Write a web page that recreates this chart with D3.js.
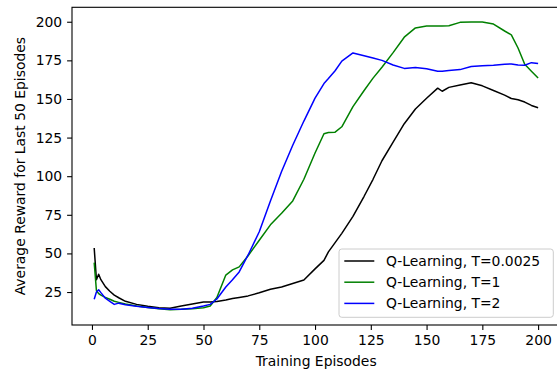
<!DOCTYPE html>
<html>
<head>
<meta charset="utf-8">
<script src="https://cdn.jsdelivr.net/npm/d3@7"></script>
<style>
  body { margin: 0; background: #fff; }
  text { font-family: "DejaVu Sans", sans-serif; }
</style>
</head>
<body>
<div id="chart"></div>
<script>
// Data
const episodes = [1,2,3,4,6,8,10,12,15,20,25,30,35,40,45,50,53,56,60,63,66,70,75,80,85,90,95,100,
  104,106,109,112,117,122,126,130,135,140,145,150,155,157,160,165,170,175,180,185,188,191,194,197,200];

const rewardT0025 = [53.5,33,36.5,33,28.5,25.5,23,21.3,19,
  17,15.8,14.8,14.5,16,17.3,18.5,
  18.6,18.8,19.8,20.8,21.5,22.5,24.5,26.8,28.3,30.5,32.8,40,
  45.5,51,57,63,74,87,98,110,122,134,143.5,150.5,
  157,155,157.5,159,160.5,158.5,155.5,152.5,150.3,149.5,148,145.8,144.3];

const rewardT1 = [44,26,24,23,21.5,20.3,19,18.3,17.3,
  16,15,14.2,13.6,13.8,14.2,14.8,
  16,21.5,36,39.3,41.3,48.5,58.5,68.5,76,84,98,115,
  127.5,128.3,128.5,132,145,155.5,163.5,170.5,180,190,196,197.2,
  197.3,197.3,197.4,199.6,199.8,199.8,198.5,194,191.5,183,172.5,168,163.6];

const rewardT2 = [20.3,25,26.5,24.6,21,19,17,17.8,16.8,
  15.8,15,14.3,13.8,13.8,14.5,16,
  17,20.5,28.3,33,38,49,64,84,103,120,135.7,150.5,
  160,163.2,168.3,174.5,179.8,178,176.5,175,172,169.8,170.3,169.5,
  167.9,168,168.5,169,171,171.5,171.8,172.5,172.7,172,171.8,173.5,173];

const seriesNames = ["Q-Learning, T=0.0025", "Q-Learning, T=1", "Q-Learning, T=2"];
const seriesColors = ["#000000", "#008000", "#0000ff"];
const xTicks = [0, 25, 50, 75, 100, 125, 150, 175, 200];
const yTicks = [25, 50, 75, 100, 125, 150, 175, 200];

// Layout
let width = 557, height = 371;
let plot = { left: 72, right: 560.3, top: 7.3, bottom: 325 };
const fontSize = 13.9;

let svg = d3.select("#chart").append("svg")
    .attr("width", width)
    .attr("height", height);

let x = d3.scaleLinear().domain([-8.95, 209.95]).range([plot.left, plot.right]);
let y = d3.scaleLinear().domain([3.65, 209.35]).range([plot.bottom, plot.top]);

// lines
let allSeries = [rewardT0025, rewardT1, rewardT2].map((vals, i) => ({
    name: seriesNames[i],
    color: seriesColors[i],
    values: episodes.map((e, j) => [e, vals[j]])
}));

let line = d3.line().x(d => x(d[0])).y(d => y(d[1]));

svg.append("g")
    .selectAll("path")
    .data(allSeries)
    .enter().append("path")
    .attr("d", d => line(d.values))
    .attr("fill", "none")
    .attr("stroke", d => d.color)
    .attr("stroke-width", 1.5)
    .attr("stroke-linejoin", "round");

// axes
let xAxis = svg.append("g")
    .attr("transform", `translate(0,${plot.bottom})`)
    .call(d3.axisBottom(x).tickValues(xTicks).tickSize(4.9).tickPadding(5.5).tickFormat(d3.format("d")));

let yAxis = svg.append("g")
    .attr("transform", `translate(${plot.left},0)`)
    .call(d3.axisLeft(y).tickValues(yTicks).tickSize(4.9).tickPadding(4.9).tickFormat(d3.format("d")));

[xAxis, yAxis].forEach(a => {
    a.select(".domain").remove();
    a.selectAll("line").attr("stroke", "#000").attr("stroke-width", 1.1);
    a.selectAll("text")
        .attr("fill", "#000")
        .style("font-size", fontSize + "px")
        .style("font-family", "DejaVu Sans, sans-serif");
});

// frame (right spine sits just outside the picture)
svg.append("rect")
    .attr("x", plot.left)
    .attr("y", plot.top)
    .attr("width", plot.right - plot.left)
    .attr("height", plot.bottom - plot.top)
    .attr("fill", "none")
    .attr("stroke", "#000")
    .attr("stroke-width", 1.1);

// axis labels
svg.append("text")
    .attr("x", (plot.left + plot.right) / 2)
    .attr("y", 365.5)
    .attr("text-anchor", "middle")
    .style("font-size", fontSize + "px")
    .text("Training Episodes");

svg.append("text")
    .attr("transform", `translate(25.3,${(plot.top + plot.bottom) / 2}) rotate(-90)`)
    .attr("text-anchor", "middle")
    .style("font-size", fontSize + "px")
    .text("Average Reward for Last 50 Episodes");

// legend
let legend = svg.append("g");

legend.append("rect")
    .attr("x", 339)
    .attr("y", 249)
    .attr("width", 553.3 - 339)
    .attr("height", 317.3 - 249)
    .attr("rx", 2.8)
    .attr("fill", "#fff")
    .attr("fill-opacity", 0.8)
    .attr("stroke", "#cccccc")
    .attr("stroke-width", 1);

let rows = legend.selectAll(".row")
    .data(allSeries)
    .enter().append("g")
    .attr("class", "row")
    .attr("transform", (d, i) => `translate(0,${261 + i * 21.2})`);

rows.append("line")
    .attr("x1", 344.3)
    .attr("x2", 374.3)
    .attr("stroke", d => d.color)
    .attr("stroke-width", 1.5);

rows.append("text")
    .attr("x", 386)
    .attr("y", 5)
    .style("font-size", fontSize + "px")
    .text(d => d.name);
</script>
</body>
</html>
